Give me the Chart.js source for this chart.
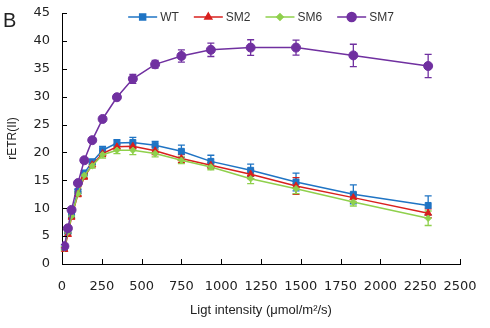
<!DOCTYPE html>
<html>
<head>
<meta charset="utf-8">
<script src="https://cdn.jsdelivr.net/npm/chart.js@4/dist/chart.umd.min.js"></script>
<style>
  html, body { margin: 0; padding: 0; background: #fff; }
  #wrap { position: relative; width: 490px; height: 328px; }
</style>
</head>
<body>
<div id="wrap"><canvas id="chart" width="490" height="328"></canvas></div>
<script>
const light = [15, 37, 60, 100, 140, 190, 255, 345, 445, 585, 750, 935, 1185, 1470, 1830, 2300];

const wt  = [2.9, 5.8, 8.8, 13.0, 16.3, 18.3, 20.4, 21.7, 21.8, 21.3, 20.2, 18.4, 16.8, 14.7, 12.5, 10.5];
const sm2 = [2.6, 5.3, 8.4, 12.5, 15.6, 17.8, 19.8, 21.0, 21.1, 20.3, 18.9, 17.7, 16.1, 14.0, 11.9, 9.1];
const sm6 = [2.8, 5.7, 8.6, 12.6, 15.9, 17.6, 19.6, 20.4, 20.4, 19.8, 18.6, 17.4, 15.3, 13.5, 11.1, 8.2];
const sm7 = [3.2, 6.4, 9.7, 14.5, 18.6, 22.2, 26.0, 29.9, 33.2, 35.8, 37.3, 38.4, 38.8, 38.8, 37.4, 35.5];

const wtErr  = [0.3, 0.3, 0.4, 0.4, 0.5, 0.5, 0.7, 0.6, 0.9, 0.7, 1.1, 1.1, 1.1, 1.6, 1.7, 1.7];
const sm2Err = [0.3, 0.3, 0.3, 0.4, 0.4, 0.4, 0.5, 0.5, 0.5, 0.7, 0.7, 0.5, 0.8, 1.5, 0.8, 0.8];
const sm6Err = [0.3, 0.3, 0.3, 0.4, 0.4, 0.4, 0.6, 0.6, 0.8, 0.6, 0.6, 0.5, 0.9, 0.9, 0.7, 1.3];
const sm7Err = [0.3, 0.3, 0.3, 0.3, 0.3, 0.3, 0.3, 0.4, 0.8, 0.7, 1.1, 1.2, 1.4, 1.35, 2.0, 2.1];

const xTicks = [0, 250, 500, 750, 1000, 1250, 1500, 1750, 2000, 2250, 2500];
const yTicks = [0, 5, 10, 15, 20, 25, 30, 35, 40, 45];

const toPoints = (ys) => ys.map((y, i) => ({x: light[i], y: y}));

const makeSet = (label, ys, errs, color, style, radius, order) => ({
    label: label,
    data: toPoints(ys),
    errors: errs,
    showLine: true,
    borderColor: color,
    backgroundColor: color,
    borderWidth: 1.5,
    pointStyle: style,
    pointRadius: radius,
    pointBorderWidth: 1,
    pointBackgroundColor: color,
    pointBorderColor: color,
    tension: 0,
    order: order
});

// error bars, drawn under the markers
const errorBars = {
    id: 'errorBars',
    beforeDatasetsDraw(chart) {
        const ctx = chart.ctx;
        const xs = chart.scales.x, ys = chart.scales.y;
        chart.data.datasets.forEach((ds) => {
            ctx.save();
            ctx.strokeStyle = ds.borderColor;
            ctx.lineWidth = 1.3;
            ds.data.forEach((p, i) => {
                const e = ds.errors[i];
                const px = xs.getPixelForValue(p.x);
                const top = ys.getPixelForValue(p.y + e);
                const bot = ys.getPixelForValue(p.y - e);
                ctx.beginPath();
                ctx.moveTo(px, top); ctx.lineTo(px, bot);
                ctx.moveTo(px - 3.5, top); ctx.lineTo(px + 3.5, top);
                ctx.moveTo(px - 3.5, bot); ctx.lineTo(px + 3.5, bot);
                ctx.stroke();
            });
            ctx.restore();
        });
    }
};

// inward tick marks, the "B" panel letter and the legend
const extras = {
    id: 'extras',
    afterDraw(chart) {
        const ctx = chart.ctx;
        const area = chart.chartArea;
        const xs = chart.scales.x, ys = chart.scales.y;
        ctx.save();
        ctx.strokeStyle = '#000';
        ctx.lineWidth = 1;
        ctx.beginPath();
        xTicks.forEach((v) => {
            const px = Math.round(xs.getPixelForValue(v)) + 0.5;
            ctx.moveTo(px, area.bottom); ctx.lineTo(px, area.bottom - 5);
        });
        yTicks.forEach((v) => {
            const py = Math.round(ys.getPixelForValue(v)) + 0.5;
            ctx.moveTo(area.left, py); ctx.lineTo(area.left + 5, py);
        });
        ctx.stroke();

        ctx.fillStyle = '#222';
        ctx.font = '20px "Liberation Sans", Arial, sans-serif';
        ctx.textBaseline = 'alphabetic';
        ctx.textAlign = 'left';
        ctx.fillText('B', 3, 27);

        // legend: line with marker, then label
        ctx.font = '12px "Liberation Sans", Arial, sans-serif';
        ctx.textBaseline = 'middle';
        const lineLen = 29, gap = 3, spacing = 15, ly = 17;
        const items = chart.data.datasets;
        let total = 0;
        items.forEach((ds, i) => {
            total += lineLen + gap + ctx.measureText(ds.label).width;
            if (i < items.length - 1) total += spacing;
        });
        let x = (area.left + area.right) / 2 - total / 2;
        items.forEach((ds) => {
            ctx.strokeStyle = ds.borderColor;
            ctx.fillStyle = ds.borderColor;
            ctx.lineWidth = 1.5;
            ctx.beginPath();
            ctx.moveTo(x, ly); ctx.lineTo(x + lineLen, ly);
            ctx.stroke();
            Chart.helpers.drawPoint(ctx, {
                pointStyle: ds.pointStyle,
                radius: ds.pointRadius,
                rotation: 0,
                borderWidth: 1
            }, x + lineLen / 2, ly);
            x += lineLen + gap;
            ctx.fillStyle = '#333';
            ctx.fillText(ds.label, x, ly + 1);
            x += ctx.measureText(ds.label).width + spacing;
        });
        ctx.restore();
    }
};

const tickFont = {family: '"DejaVu Sans", sans-serif', size: 13};

new Chart(document.getElementById('chart').getContext('2d'), {
    type: 'scatter',
    data: {
        datasets: [
            makeSet('WT', wt, wtErr, '#1f74c4', 'rect', 4.2, 4),
            makeSet('SM2', sm2, sm2Err, '#d8201e', 'triangle', 4, 3),
            makeSet('SM6', sm6, sm6Err, '#8fd04c', 'rectRot', 3.2, 2),
            makeSet('SM7', sm7, sm7Err, '#7030a0', 'circle', 4.5, 1)
        ]
    },
    options: {
        responsive: false,
        animation: false,
        layout: {padding: {left: 0, right: 30, top: 13, bottom: 0}},
        plugins: {
            legend: {display: false},
            tooltip: {enabled: false}
        },
        scales: {
            x: {
                type: 'linear',
                min: 0,
                max: 2500,
                afterBuildTicks: (s) => { s.ticks = xTicks.map((v) => ({value: v})); },
                afterFit: (s) => { s.height = 64; s.paddingLeft = 0; s.paddingRight = 0; },
                grid: {display: true, drawOnChartArea: false, drawTicks: false},
                border: {display: true, color: '#000', width: 1},
                ticks: {color: '#222', font: tickFont, padding: 15, maxRotation: 0, callback: (v) => String(v)},
                title: {
                    display: true,
                    text: 'Ligt intensity (\u03bcmol/m\u00b2/s)',
                    color: '#222',
                    font: {family: '"Liberation Sans", Arial, sans-serif', size: 13},
                    padding: {top: 0, bottom: 10}
                }
            },
            y: {
                type: 'linear',
                min: 0,
                max: 45,
                afterBuildTicks: (s) => { s.ticks = yTicks.map((v) => ({value: v})); },
                afterFit: (s) => { s.width = 62; s.paddingTop = 0; s.paddingBottom = 0; },
                grid: {display: true, drawOnChartArea: false, drawTicks: false},
                border: {display: true, color: '#000', width: 1},
                ticks: {color: '#222', font: tickFont, padding: 12, callback: (v) => String(v)},
                title: {
                    display: true,
                    text: 'rETR(II)',
                    color: '#222',
                    font: {family: '"Liberation Sans", Arial, sans-serif', size: 12},
                    padding: {top: 5, bottom: 0}
                }
            }
        }
    },
    plugins: [errorBars, extras]
});
</script>
</body>
</html>
